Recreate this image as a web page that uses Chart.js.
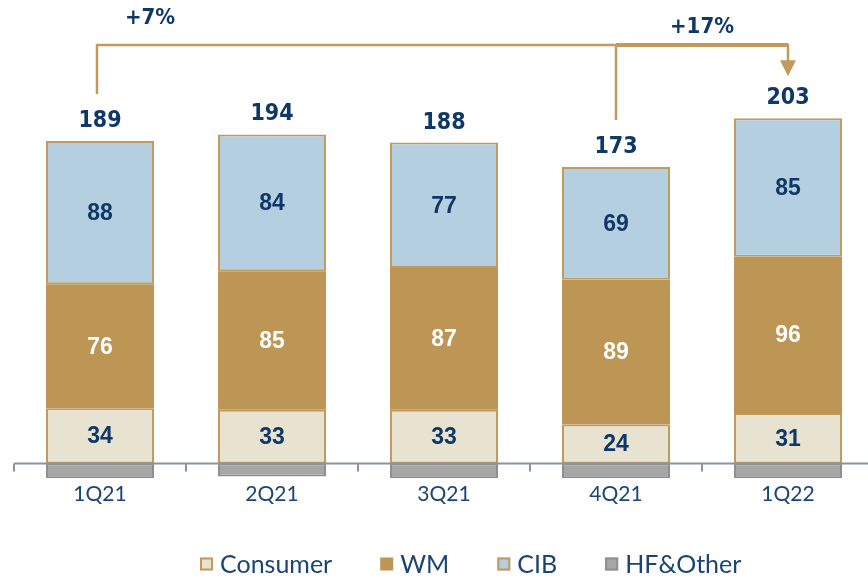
<!DOCTYPE html>
<html>
<head>
<meta charset="utf-8">
<script src="https://cdn.jsdelivr.net/npm/chart.js@4"></script>
<style>
  html, body { margin: 0; padding: 0; background: #fff; overflow: hidden; }
  #wrap { width: 880px; height: 578px; position: relative; }
</style>
</head>
<body>
<div id="wrap"><canvas id="chart"></canvas></div>
<script>
const categories = ['1Q21', '2Q21', '3Q21', '4Q21', '1Q22'];
const consumer = [34, 33, 33, 24, 31];
const wm = [76, 85, 87, 89, 96];
const cib = [88, 84, 77, 69, 85];
const hfOther = [-9, -8, -9, -9, -9];
const totals = [189, 194, 188, 173, 203];
const growthLabels = ['+7%', '+17%'];

const navy = '#0f3868';
const tan = '#c29b5c';
const narrow = "'Liberation Sans Narrow', 'DejaVu Sans Condensed', 'Liberation Sans', sans-serif";
const textFont = "Lato, 'Noto Sans', sans-serif";

const labelsPlugin = {
    id: 'labels',
    afterDatasetsDraw(chart) {
        let ctx = chart.ctx;
        let x = chart.scales.x;
        let y = chart.scales.y;
        let zero = y.getPixelForValue(0);
        ctx.save();

        // zero axis line with category ticks
        ctx.strokeStyle = '#8a93a6';
        ctx.lineWidth = 2;
        ctx.beginPath();
        ctx.moveTo(x.left, zero);
        ctx.lineTo(x.right, zero);
        let step = x.getPixelForValue(1) - x.getPixelForValue(0);
        for (let i = 0; i <= categories.length; i++) {
            let px = x.getPixelForValue(0) - step / 2 + i * step;
            ctx.moveTo(px, zero);
            ctx.lineTo(px, zero + 8);
        }
        ctx.stroke();

        // segment values
        ctx.textAlign = 'center';
        ctx.textBaseline = 'middle';
        ctx.font = "bold 23px 'Liberation Sans', sans-serif";
        [0, 1, 2].forEach(di => {
            let meta = chart.getDatasetMeta(di);
            meta.data.forEach((bar, i) => {
                ctx.fillStyle = di == 1 ? '#ffffff' : navy;
                ctx.fillText(chart.data.datasets[di].data[i], bar.x, (bar.y + bar.base) / 2 + 1);
            });
        });

        // totals
        ctx.font = 'bold 23px ' + narrow;
        ctx.fillStyle = navy;
        let tops = [];
        chart.getDatasetMeta(2).data.forEach((bar, i) => {
            tops.push(bar.y);
            ctx.fillText(totals[i], bar.x, bar.y - 20);
        });

        // growth brackets
        let barX = i => x.getPixelForValue(i);
        let lineY = 45;
        ctx.strokeStyle = tan;
        ctx.fillStyle = tan;
        ctx.lineWidth = 2.5;
        ctx.beginPath();
        ctx.moveTo(barX(0) - 3, tops[0] - 47);
        ctx.lineTo(barX(0) - 3, lineY);
        ctx.lineTo(barX(4), lineY);
        ctx.lineTo(barX(4), tops[4] - 48);
        ctx.moveTo(barX(3), tops[3] - 47);
        ctx.lineTo(barX(3), lineY);
        ctx.stroke();
        ctx.lineWidth = 4;
        ctx.beginPath();
        ctx.moveTo(barX(3), lineY);
        ctx.lineTo(barX(4), lineY);
        ctx.stroke();
        ctx.beginPath();
        ctx.moveTo(barX(4) - 8, tops[4] - 58);
        ctx.lineTo(barX(4) + 8, tops[4] - 58);
        ctx.lineTo(barX(4), tops[4] - 42);
        ctx.closePath();
        ctx.fill();

        ctx.fillStyle = navy;
        ctx.font = 'bold 22px ' + narrow;
        ctx.fillText(growthLabels[0], barX(0) + 50, 18);
        ctx.fillText(growthLabels[1], (barX(3) + barX(4)) / 2, 27);

        // legend
        let lx = 200;
        let ly = 564;
        ctx.font = '25px ' + textFont;
        ctx.textAlign = 'left';
        chart.data.datasets.forEach(ds => {
            ctx.fillStyle = ds.backgroundColor;
            ctx.fillRect(lx, ly - 6.5, 13, 13);
            if (ds.borderWidth) {
                ctx.strokeStyle = ds.borderColor;
                ctx.lineWidth = 2;
                ctx.strokeRect(lx + 1, ly - 5.5, 11, 11);
            }
            ctx.fillStyle = '#1b4474';
            ctx.fillText(ds.label, lx + 20, ly + 1);
            lx += 20 + ctx.measureText(ds.label).width + 48;
        });
        ctx.restore();
    }
};

const ctx = document.getElementById('chart').getContext('2d');
new Chart(ctx, {
    type: 'bar',
    data: {
        labels: categories,
        datasets: [
            { label: 'Consumer', data: consumer, backgroundColor: '#e8e3d1', borderColor: tan, borderWidth: 2 },
            { label: 'WM', data: wm, backgroundColor: '#bd9555', borderColor: '#bd9555', borderWidth: 0 },
            { label: 'CIB', data: cib, backgroundColor: '#b4cfe0', borderColor: tan, borderWidth: 2 },
            { label: 'HF&Other', data: hfOther, backgroundColor: '#a6a6a6', borderColor: '#8f8f8f', borderWidth: 2 }
        ]
    },
    options: {
        responsive: true,
        maintainAspectRatio: false,
        animation: false,
        datasets: { bar: { categoryPercentage: 1, barPercentage: 0.628, borderSkipped: false } },
        layout: { padding: { left: 14, right: 6, top: 40, bottom: 69 } },
        scales: {
            x: {
                stacked: true,
                grid: { display: false, drawTicks: false },
                border: { display: false },
                ticks: { color: '#1b4474', font: { family: textFont, size: 21 }, padding: 2 }
            },
            y: {
                stacked: true,
                display: false,
                min: -10,
                max: 260
            }
        },
        plugins: {
            legend: { display: false },
            tooltip: { enabled: false }
        }
    },
    plugins: [labelsPlugin]
});
</script>
</body>
</html>
